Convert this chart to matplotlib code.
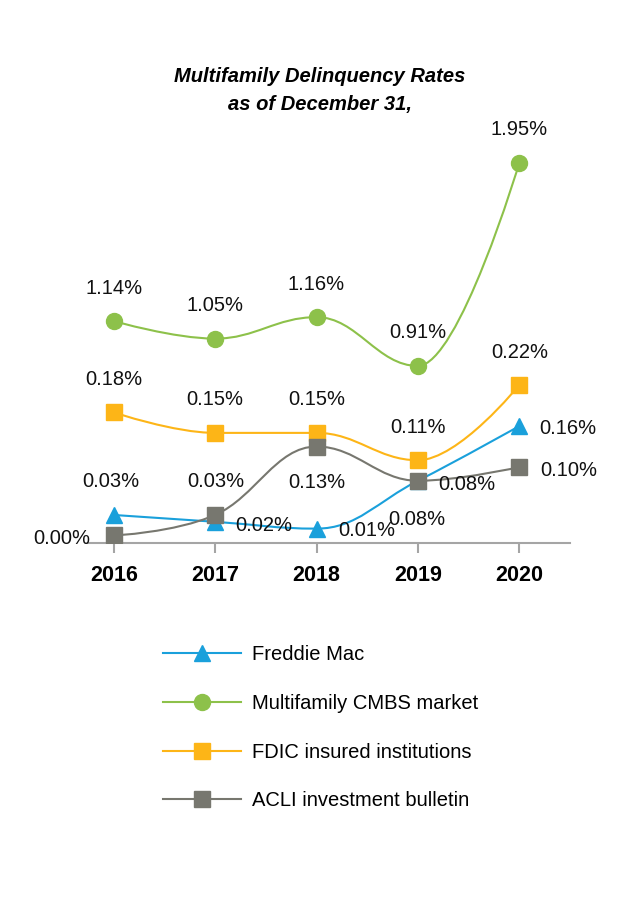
import matplotlib
matplotlib.use("Agg")
import matplotlib.pyplot as plt
from matplotlib.path import Path
from matplotlib.patches import PathPatch
from matplotlib.lines import Line2D

plt.rcParams['font.family'] = ['Liberation Sans Narrow', 'Liberation Sans', 'DejaVu Sans']

# data
years = [2016, 2017, 2018, 2019, 2020]
freddie_mac = [0.03, 0.02, 0.01, 0.08, 0.16]
cmbs_market = [1.14, 1.05, 1.16, 0.91, 1.95]
fdic_insured = [0.18, 0.15, 0.15, 0.11, 0.22]
acli_bulletin = [0.00, 0.03, 0.13, 0.08, 0.10]

names = ["Freddie Mac", "Multifamily CMBS market",
         "FDIC insured institutions", "ACLI investment bulletin"]

# label offsets in pixels (x, y) from each point
above = [(0, 33)] * 5
freddie_off = [(-3, 33), (49, -4), (50, -2), (-1, -39), (49, -2)]
acli_off = [(-52, -3), (1, 33), (0, -36), (49, -4), (49, -3)]


# smooth line like the spline charts (bezier control points)
def spline_path(xs, ys, smooth=1.5):
    n = len(xs)
    right = [None] * n
    verts = [(xs[0], ys[0])]
    codes = [Path.MOVETO]
    for i in range(1, n):
        x, y = xs[i], ys[i]
        lx, ly = xs[i - 1], ys[i - 1]
        left_c = (x, y)
        if i < n - 1:
            nx, ny = xs[i + 1], ys[i + 1]
            d = smooth + 1
            lcx = (smooth * x + lx) / d
            lcy = (smooth * y + ly) / d
            rcx = (smooth * x + nx) / d
            rcy = (smooth * y + ny) / d
            corr = (rcy - lcy) * (rcx - x) / (rcx - lcx) + y - rcy
            lcy += corr
            rcy += corr
            if lcy > ly and lcy > y:
                lcy = max(ly, y)
                rcy = 2 * y - lcy
            elif lcy < ly and lcy < y:
                lcy = min(ly, y)
                rcy = 2 * y - lcy
            if rcy > ny and rcy > y:
                rcy = max(ny, y)
                lcy = 2 * y - rcy
            elif rcy < ny and rcy < y:
                rcy = min(ny, y)
                lcy = 2 * y - rcy
            left_c = (lcx, lcy)
            right[i] = (rcx, rcy)
        prev_c = right[i - 1] if right[i - 1] else (lx, ly)
        verts += [prev_c, left_c, (x, y)]
        codes += [Path.CURVE4] * 3
    return Path(verts, codes)


def draw_series(ax, vals, color, marker, msize, offsets):
    ax.add_patch(PathPatch(spline_path(years, vals), fill=False,
                           edgecolor=color, lw=1.5, zorder=2))
    ax.plot(years, vals, ls='none', marker=marker, ms=msize,
            color=color, mec=color, zorder=3)
    for x, v, off in zip(years, vals, offsets):
        ax.annotate(f"{v:.2f}%", (x, v), xytext=off, textcoords='offset pixels',
                    ha='center', va='center', fontsize=14.5, color='#111111')


fig = plt.figure(figsize=(6.34, 9), dpi=100)
ax = fig.add_axes([63 / 634, 1 - 543 / 900, 507 / 634, 423 / 900])
ax2 = ax.twinx()

ax.set_xlim(2015.5, 2020.5)
ax.set_ylim(-0.011, 0.6075)
ax2.set_ylim(0.003, 2.17)

blue = '#1AA0DB'
green = '#8DC14A'
orange = '#FDB517'
grey = '#77776F'

draw_series(ax, freddie_mac, blue, '^', 11, freddie_off)
draw_series(ax, fdic_insured, orange, 's', 11, above)
draw_series(ax, acli_bulletin, grey, 's', 11, acli_off)
draw_series(ax2, cmbs_market, green, 'o', 11.5, above)

for a in (ax, ax2):
    for s in ['left', 'right', 'top']:
        a.spines[s].set_visible(False)
    a.set_yticks([])
ax2.spines['bottom'].set_visible(False)
ax.spines['bottom'].set_color('#A5A5A5')
ax.spines['bottom'].set_linewidth(1.5)
ax.spines['bottom'].set_bounds(2015.75, 2020.5)

ax.set_xticks(years)
ax.set_xticklabels([str(y) for y in years], fontsize=15.5, fontweight='bold')
ax.tick_params(axis='x', length=7.5, width=1.5, color='#A5A5A5', pad=8)

fig.text(320 / 634, 1 - 90.5 / 900, "Multifamily Delinquency Rates\nas of December 31,",
         ha='center', va='center', fontsize=14.5, fontweight='bold', style='italic',
         linespacing=1.6)

handles = [
    Line2D([], [], color=blue, lw=1.5, marker='^', ms=11),
    Line2D([], [], color=green, lw=1.5, marker='o', ms=11.5),
    Line2D([], [], color=orange, lw=1.5, marker='s', ms=11),
    Line2D([], [], color=grey, lw=1.5, marker='s', ms=11),
]
fig.legend(handles, names, loc='upper left', bbox_to_anchor=(163 / 634, 1 - 645 / 900),
           frameon=False, fontsize=14.5, numpoints=1, handlelength=3.85,
           handletextpad=0.55, labelspacing=1.48, borderpad=0, borderaxespad=0)

fig.savefig("out.png", dpi=100)
